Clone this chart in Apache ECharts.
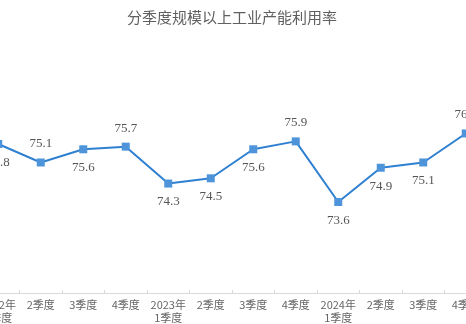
<!DOCTYPE html>
<html>
<head>
<meta charset="utf-8">
<script src="https://cdn.jsdelivr.net/npm/echarts@6/dist/echarts.min.js"></script>
<style>html,body{margin:0;padding:0;background:#fff;overflow:hidden;width:466px;height:324px;position:relative}#c{position:absolute;left:-22.6px;top:0;width:510px;height:324px}</style>
</head>
<body>
<div id="c"></div>
<script>
const categories = ["2022年\n1季度","2季度","3季度","4季度","2023年\n1季度","2季度","3季度","4季度","2024年\n1季度","2季度","3季度","4季度"];
const values = [75.8, 75.1, 75.6, 75.7, 74.3, 74.5, 75.6, 75.9, 73.6, 74.9, 75.1, 76.2];
const labelSides = ["bottom","top","bottom","top","bottom","bottom","bottom","top","bottom","bottom","bottom","top"];
const titleText = "分季度规模以上工业产能利用率";

const chart = echarts.init(document.getElementById('c'), null, {renderer:'canvas'});
chart.setOption({
  animation: false,
  backgroundColor: '#ffffff',
  title: {
    text: titleText, left: 'center', top: 5,
    textStyle: {fontFamily: 'Noto Sans CJK SC', fontSize: 15, fontWeight: 'normal', color: '#606060'}
  },
  grid: {left: 0, right: 0, top: 86, bottom: 27.5, containLabel: false},
  xAxis: {
    type: 'category', data: categories, boundaryGap: true,
    axisLine: {lineStyle: {color: '#d9d9d9', width: 1}},
    axisTick: {show: true, inside: true, length: 3, lineStyle: {color: '#d9d9d9'}},
    axisLabel: {interval: 0, color: '#666', fontSize: 11, fontFamily: 'Noto Sans CJK SC', margin: 5, lineHeight: 13}
  },
  yAxis: {
    type: 'value', min: 70.15, max: 78, show: false,
    splitLine: {show: false}
  },
  series: [{
    type: 'line',
    data: values.map((v, i) => ({value: v, label: {position: labelSides[i]}})),
    symbol: 'rect', symbolSize: 8,
    lineStyle: {color: '#2f80d1', width: 2},
    itemStyle: {color: '#4d94db'},
    label: {show: true, distance: 8, color: '#555', fontSize: 13, fontFamily: 'Liberation Serif'}
  }]
});
</script>
</body>
</html>
